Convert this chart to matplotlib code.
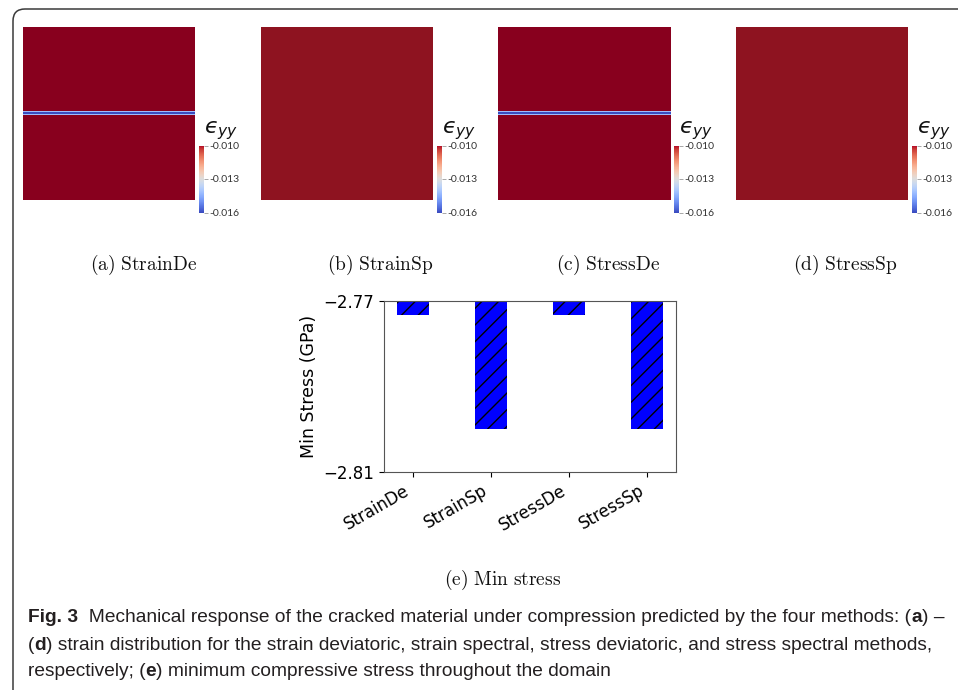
import numpy as np
import matplotlib
matplotlib.use("Agg")
import matplotlib.pyplot as plt
from matplotlib.patches import FancyBboxPatch
from matplotlib.transforms import IdentityTransform
from matplotlib.colors import Normalize

# ---------------- data ----------------
methods = ["StrainDe", "StrainSp", "StressDe", "StressSp"]
panel_letters = ["a", "b", "c", "d"]
has_crack = [True, False, True, False]
bg_color = ["#88001e", "#8e1320", "#88001e", "#8e1320"]  # saturated colour beyond colorbar max
bg_strain = [-0.0090, -0.0092, -0.0090, -0.0092]
crack_core_strain = -0.0160
crack_edge_strain = -0.0142
cbar_ticks = [-0.010, -0.013, -0.016]
cbar_ticklabels = ["-0.010", "-0.013", "-0.016"]
min_stress = [-2.7733, -2.7999, -2.7733, -2.7999]
bar_yticks = [-2.81, -2.77]

W, H = 958, 690
fig = plt.figure(figsize=(W / 100, H / 100), dpi=100)
plt.rcParams["mathtext.fontset"] = "cm"


def rect(x0, y0, x1, y1):
    return [x0 / W, 1 - y1 / H, (x1 - x0) / W, (y1 - y0) / H]


# rounded border of the figure box
fig.add_artist(FancyBboxPatch((13, -60), 1100, 681 + 60,
                              boxstyle="round,pad=0,rounding_size=12",
                              transform=IdentityTransform(), fill=False,
                              edgecolor="#3a3a3a", linewidth=1.1))

N = 173
panel_x = [23, 261, 498, 736]
caption_cx = [144, 380, 608, 845]
for i, m in enumerate(methods):
    x0 = panel_x[i]
    field = np.full((N, N), bg_strain[i])
    if has_crack[i]:
        c = N // 2
        field[c - 1:c + 1, :] = crack_core_strain
        field[c - 2, :] = crack_edge_strain
        field[c + 1, :] = crack_edge_strain
    cmap = plt.get_cmap("coolwarm").with_extremes(over=bg_color[i])
    ax = fig.add_axes(rect(x0, 27, x0 + 172, 200))
    im = ax.imshow(field, cmap=cmap, norm=Normalize(-0.016, -0.010),
                   interpolation="nearest", aspect="auto")
    ax.set_axis_off()
    # colorbar
    cax = fig.add_axes(rect(x0 + 176, 145.5, x0 + 180.5, 212.5))
    cb = fig.colorbar(im, cax=cax, ticks=cbar_ticks, extend="neither")
    cb.outline.set_visible(False)
    cax.set_yticklabels(cbar_ticklabels)
    cax.tick_params(axis="y", length=3, width=0.6, color="#999999", pad=1,
                    labelsize=7.5, labelcolor="#333333")
    for t in cax.get_yticklabels():
        t.set_family(["Lato", "DejaVu Sans"])
    fig.text((x0 + 181) / W, 1 - 133 / H, "$\u03f5_{yy}$", fontsize=16,
             ha="left", va="baseline", color="#111111",
             math_fontfamily="dejavusans")
    fig.text(caption_cx[i] / W, 1 - 265 / H,
             r"$\mathrm{(%s)\ %s}$" % (panel_letters[i], m),
             fontsize=14, ha="center", va="center", color="#111111")

# ---------------- bar chart ----------------
bax = fig.add_axes(rect(384, 301, 676, 472))
xpos = np.arange(len(methods))
bax.bar(xpos, min_stress, width=0.4, color="blue", hatch="//")
bax.set_ylim(-2.81, -2.77)
bax.set_yticks(bar_yticks)
bax.set_yticklabels(["\u2212%.2f" % abs(v) for v in bar_yticks])
bax.set_xticks(xpos)
bax.set_xticklabels(methods, rotation=30, ha="right")
bax.tick_params(labelsize=12)
bax.set_ylabel("Min Stress (GPa)", fontsize=12.5, labelpad=4)
for s in bax.spines.values():
    s.set_color("#555555")
    s.set_linewidth(0.8)
fig.text(503 / W, 1 - 580 / H, r"$\mathrm{(e)\ Min\ stress}$", fontsize=14,
         ha="center", va="center", color="#111111")

# ---------------- caption ----------------
renderer = fig.canvas.get_renderer()
cap_family = ["Liberation Sans", "DejaVu Sans"]
lines = [
    [("Fig. 3", "bold"), ("  Mechanical response of the cracked material under compression predicted by the four methods: (", "normal"), ("a", "bold"), (") \u2013", "normal")],
    [("(", "normal"), ("d", "bold"), (") strain distribution for the strain deviatoric, strain spectral, stress deviatoric, and stress spectral methods,", "normal")],
    [("respectively; (", "normal"), ("e", "bold"), (") minimum compressive stress throughout the domain", "normal")],
]
line_y = [617, 645, 672]


def draw_line(runs, x, y, size, draw=True):
    cur = x
    for txt, wgt in runs:
        t = fig.text(cur / W, 1 - y / H, txt, fontsize=size, weight=wgt,
                     family=cap_family, ha="left", va="center", color="#231f20")
        bb = t.get_window_extent(renderer)
        cur += bb.width
        if not draw:
            t.remove()
    return cur - x


w12 = draw_line(lines[0], 28, line_y[0], 12, draw=False)
size = 12 * 918 / w12
for runs, y in zip(lines, line_y):
    draw_line(runs, 28, y, size)

fig.savefig("out.png", dpi=100)
